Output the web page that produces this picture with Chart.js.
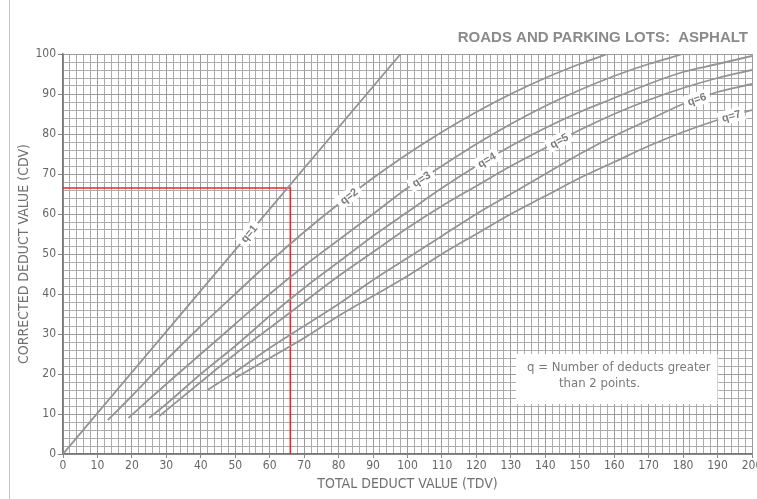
<!DOCTYPE html>
<html lang="en">
<head>
<meta charset="UTF-8">
<title>Roads and Parking Lots: Asphalt - CDV curves</title>
<script src="https://cdn.jsdelivr.net/npm/chart.js@4.4.0/dist/chart.umd.min.js"></script>
<style>
  html, body { margin: 0; padding: 0; background: #fff; }
  canvas { display: block; }
</style>
</head>
<body>
<canvas id="cdvChart" width="757" height="499"></canvas>
<script>
// Curve points: total deduct value (TDV) -> corrected deduct value (CDV)
const q1TDV = [0, 98];
const q1CDV = [0, 100];
const q2TDV = [13, 20, 30, 40, 50, 60, 70, 80, 90, 100, 110, 120, 130, 140, 150, 158];
const q2CDV = [8.5, 14.5, 23.5, 32, 40, 48, 55.5, 62.5, 69, 75, 80.5, 85.5, 90, 94, 97.5, 100];
const q3TDV = [19, 30, 40, 50, 60, 70, 80, 90, 100, 110, 120, 130, 140, 150, 160, 170, 180];
const q3CDV = [9, 17.5, 25, 32.5, 40, 47, 53.5, 60, 66.5, 72, 77.5, 82.5, 87, 91, 94.5, 97.5, 100];
const q4TDV = [25, 30, 40, 50, 60, 70, 80, 90, 100, 110, 120, 130, 140, 150, 160, 170, 180, 190, 200];
const q4CDV = [9, 12.5, 20, 27, 34.5, 41.5, 48, 54.5, 60.5, 66.5, 72, 77, 81.5, 85.5, 89, 92.5, 95.5, 97.5, 99.5];
const q5TDV = [28, 40, 50, 60, 70, 80, 90, 100, 110, 120, 130, 140, 150, 160, 170, 180, 190, 200];
const q5CDV = [9.5, 18, 25, 31.5, 38, 44.5, 50.5, 56.5, 62, 67, 72, 76.5, 81, 85, 88.5, 91.5, 94, 96];
const q6TDV = [42, 50, 60, 70, 80, 90, 100, 110, 120, 130, 140, 150, 160, 170, 180, 190, 200];
const q6CDV = [16, 20.5, 26.5, 32, 37.5, 43.5, 49, 54.5, 60, 65, 70, 75, 79.5, 83.5, 87.5, 90.5, 92.5];
const q7TDV = [50, 60, 70, 80, 90, 100, 110, 120, 130, 140, 150, 160, 170, 180, 190, 200];
const q7CDV = [19, 24, 29, 34.5, 39.5, 44.5, 50, 55, 60, 64.5, 69, 73, 77, 80.5, 83.5, 86];

// worked example drawn in red: TDV 66 -> CDV 66.5 on the q=1 curve
const exampleTDV = [0, 66, 66];
const exampleCDV = [66.5, 66.5, 0];

const curveNames = ['q=1', 'q=2', 'q=3', 'q=4', 'q=5', 'q=6', 'q=7'];
const curveTDV = [q1TDV, q2TDV, q3TDV, q4TDV, q5TDV, q6TDV, q7TDV];
const curveCDV = [q1CDV, q2CDV, q3CDV, q4CDV, q5CDV, q6CDV, q7CDV];
// where along each curve (in TDV) its q label sits
const labelAtTDV = [54, 83, 104, 123, 144, 184, 194];

const titleText = 'ROADS AND PARKING LOTS:  ASPHALT';
const noteLines = ['q = Number of deducts greater', 'than 2 points.'];

const toPoints = (xs, ys) => xs.map((x, i) => ({ x: x, y: ys[i] }));

const datasets = curveNames.map((name, i) => ({
    label: name,
    data: toPoints(curveTDV[i], curveCDV[i]),
    borderColor: '#949494',
    borderWidth: 1.8,
    pointRadius: 0,
    tension: 0.4,
    cubicInterpolationMode: 'monotone',
    fill: false
}));
datasets.push({
    label: 'example',
    data: toPoints(exampleTDV, exampleCDV),
    borderColor: '#e5262b',
    borderWidth: 1.6,
    pointRadius: 0,
    tension: 0,
    fill: false
});

const narrow = "'Liberation Sans Narrow', 'DejaVu Sans Condensed', 'Liberation Sans', sans-serif";
const gridColor = ctx => (ctx.tick && ctx.tick.value % 10 === 0) ? '#9a9a9a' : '#ababab';
const tickColor = ctx => (ctx.tick && ctx.tick.value % 10 === 0) ? '#888' : 'rgba(0,0,0,0)';

// curve labels, title, note box and page frame drawn on top of the plot
const decorations = {
    id: 'decorations',
    afterDatasetsDraw(chart) {
        const { ctx, chartArea } = chart;
        const xs = chart.scales.x, ys = chart.scales.y;

        // q labels along each curve
        ctx.save();
        ctx.font = "bold 11px 'Liberation Sans', Arial, sans-serif";
        ctx.textAlign = 'center';
        ctx.textBaseline = 'middle';
        curveNames.forEach((name, i) => {
            const tx = curveTDV[i], ty = curveCDV[i];
            const t = labelAtTDV[i];
            let k = 0;
            while (k < tx.length - 2 && tx[k + 1] < t) k++;
            const f = (t - tx[k]) / (tx[k + 1] - tx[k]);
            const v = ty[k] + f * (ty[k + 1] - ty[k]);
            const px = xs.getPixelForValue(t), py = ys.getPixelForValue(v);
            const ang = Math.atan2(ys.getPixelForValue(ty[k + 1]) - ys.getPixelForValue(ty[k]),
                                   xs.getPixelForValue(tx[k + 1]) - xs.getPixelForValue(tx[k]));
            ctx.save();
            ctx.translate(px, py);
            ctx.rotate(ang);
            const w = ctx.measureText(name).width + 8;
            ctx.fillStyle = '#fff';
            ctx.fillRect(-w / 2, -7, w, 14);
            ctx.fillStyle = '#7a7a7a';
            ctx.fillText(name, 0, 0.5);
            ctx.restore();
        });
        ctx.restore();

        // note box
        ctx.save();
        const bx = xs.getPixelForValue(131.5), by = ys.getPixelForValue(25);
        const bw = xs.getPixelForValue(190) - bx, bh = ys.getPixelForValue(12.5) - by;
        ctx.fillStyle = '#fff';
        ctx.fillRect(bx, by, bw, bh);
        ctx.fillStyle = '#7a7a7a';
        ctx.font = "13px " + narrow;
        ctx.textBaseline = 'middle';
        ctx.textAlign = 'left';
        ctx.fillText(noteLines[0], bx + 11, by + 14);
        ctx.fillText(noteLines[1], bx + 43, by + 30);
        ctx.restore();

        // title
        ctx.save();
        ctx.fillStyle = '#8a8a8a';
        ctx.font = "bold 15px 'Liberation Sans', Arial, sans-serif";
        ctx.textAlign = 'right';
        ctx.textBaseline = 'alphabetic';
        ctx.fillText(titleText, chartArea.right - 4, 42);
        ctx.restore();

        // faint frame line of the scanned sheet
        ctx.save();
        ctx.strokeStyle = '#c4c4c4';
        ctx.lineWidth = 1;
        ctx.beginPath();
        ctx.moveTo(9.5, 0);
        ctx.lineTo(9.5, chart.height);
        ctx.stroke();
        ctx.restore();
    }
};

new Chart(document.getElementById('cdvChart'), {
    type: 'line',
    data: { datasets: datasets },
    plugins: [decorations],
    options: {
        responsive: false,
        devicePixelRatio: 1,
        animation: false,
        layout: { padding: { top: 54, right: 5, left: 10, bottom: 0 } },
        plugins: { legend: { display: false }, tooltip: { enabled: false } },
        scales: {
            x: {
                type: 'linear',
                min: 0,
                max: 200,
                afterFit: s => { s.paddingLeft = 0; s.paddingRight = 0; s.height = 45; },
                ticks: {
                    stepSize: 2,
                    autoSkip: false,
                    maxRotation: 0,
                    padding: 1,
                    color: '#666',
                    font: { size: 12, family: narrow },
                    callback: v => (v % 10 === 0 ? String(v) : '')
                },
                grid: { color: gridColor, tickColor: tickColor, tickLength: 4, lineWidth: 1 },
                border: { color: '#777', width: 1.5 },
                title: {
                    display: true,
                    text: 'TOTAL DEDUCT VALUE (TDV)',
                    color: '#707070',
                    font: { size: 14, family: narrow },
                    padding: { top: 0, bottom: 6 }
                }
            },
            y: {
                type: 'linear',
                min: 0,
                max: 100,
                afterFit: s => { s.width = 53; },
                ticks: {
                    stepSize: 2,
                    autoSkip: false,
                    padding: 2,
                    color: '#666',
                    font: { size: 12, family: narrow },
                    callback: v => (v % 10 === 0 ? String(v) : '')
                },
                grid: { color: gridColor, tickColor: tickColor, tickLength: 5, lineWidth: 1 },
                border: { color: '#777', width: 1.5 },
                title: {
                    display: true,
                    text: 'CORRECTED DEDUCT VALUE (CDV)',
                    color: '#707070',
                    font: { size: 14, family: narrow },
                    padding: { top: 6, bottom: 0 }
                }
            }
        }
    }
});
</script>
</body>
</html>
